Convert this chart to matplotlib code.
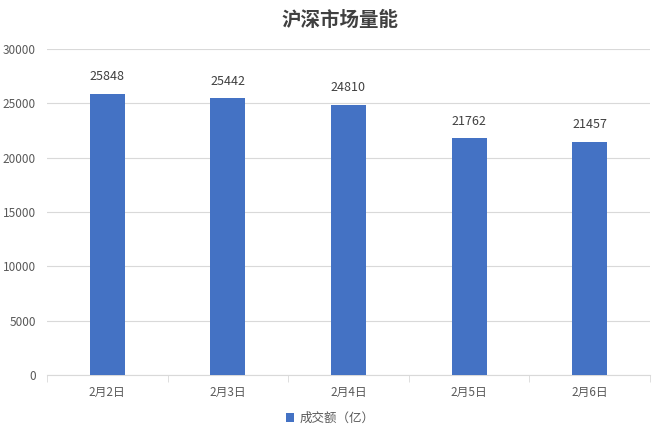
import numpy as np
import matplotlib.pyplot as plt

plt.rcParams['font.family'] = ['Noto Sans CJK SC', 'DejaVu Sans']

# data
dates = ['2月2日', '2月3日', '2月4日', '2月5日', '2月6日']
volume = [25848, 25442, 24810, 21762, 21457]
series_name = '成交额（亿）'

fig = plt.figure(figsize=(6.6, 4.36), dpi=100)
ax = fig.add_axes([0.071, 0.14, 0.914, 0.748])

x = np.arange(len(dates))
bars = ax.bar(x, volume, width=0.29, color='#4472C4', label=series_name, zorder=3)

for xi, v in zip(x, volume):
    ax.text(xi, v + 1000, str(v), ha='center', va='bottom', fontsize=9, color='#404040')

ax.set_ylim(0, 30000)
ax.set_xlim(-0.5, len(dates) - 0.5)
ax.set_yticks(np.arange(0, 30001, 5000))
ax.yaxis.grid(True, color='#D9D9D9', linewidth=0.8, zorder=0)

ax.set_xticks(x)
ax.set_xticklabels(dates)
ax.set_xticks(np.arange(-0.5, len(dates)), minor=True)
ax.tick_params(axis='x', which='major', length=0, pad=8, labelsize=8.5, labelcolor='#595959')
ax.tick_params(axis='x', which='minor', length=5, color='#D9D9D9')
ax.tick_params(axis='y', length=0, pad=8, labelsize=8.5, labelcolor='#595959')

for s in ['top', 'right', 'left']:
    ax.spines[s].set_visible(False)
ax.spines['bottom'].set_color('#D9D9D9')

fig.suptitle('沪深市场量能', x=0.515, y=0.975, fontsize=14, fontweight='bold', color='#404040')

fig.legend(loc='lower center', bbox_to_anchor=(0.5, 0.0), frameon=False, fontsize=9,
           handlelength=0.7, handleheight=0.7, handletextpad=0.4, labelcolor='#595959')

fig.savefig('out.png', dpi=100)
